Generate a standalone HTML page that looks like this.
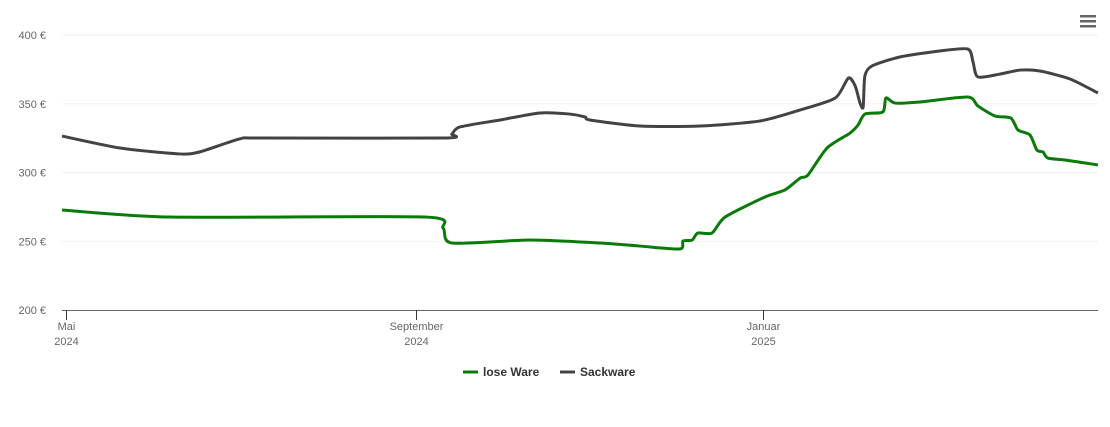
<!DOCTYPE html>
<html><head><meta charset="utf-8"><style>
body{margin:0;background:#fff;width:1110px;height:422px;overflow:hidden;font-family:"Liberation Sans",sans-serif}
svg text{font-family:"Liberation Sans",sans-serif}
</style></head><body>
<svg id="chart" width="1110" height="422" xmlns="http://www.w3.org/2000/svg">
<g id="grid"></g>
<g id="yaxis"></g>
<g id="xaxis"></g>
<g id="series"></g>
<g>
<rect x="1080" y="15" width="16" height="2.5" fill="#666"/><rect x="1080" y="20" width="16" height="2.5" fill="#666"/><rect x="1080" y="25" width="16" height="2.5" fill="#666"/>
</g>
<g>
<g><line x1="463" y1="372" x2="478" y2="372" stroke="#0a7a0a" stroke-width="3"/><text x="483" y="376" font-size="12" font-weight="bold" fill="#333">lose Ware</text></g>
<g><line x1="560" y1="372" x2="575" y2="372" stroke="#444" stroke-width="3"/><text x="580" y="376" font-size="12" font-weight="bold" fill="#333">Sackware</text></g>
</g>
</svg>
<script>
// days since 2024-05-01
const yTicks=[200,250,300,350,400];
const xTickDays=[0,123,245];
const xTickLabels=[["Mai","2024"],["September","2024"],["Januar","2025"]];
const looseDays=[-1.4,36.5,126,132.5,135.6,163,187.6,201.7,215.7,216.8,220,222,227,231.6,245.6,252.6,258,260.7,267.4,275.5,278.3,280.7,287,288.1,291.3,300,316.9,320.4,326.4,332,334.5,338.7,341.1,343.3,345,351,362.6];
const looseVals=[272.7,267.6,267.6,259.6,248.7,250.9,248.7,246.5,244.4,250.2,250.9,256,256,267.6,282.2,287.3,296,298.2,317.8,328.7,334.5,342.5,344,354.2,350.5,351.3,354.9,348.4,341.1,339.6,330.9,327.3,316.4,314.9,310.5,309.1,305.5];
const sackDays=[-1.4,19,40,47,61,68.2,133,135.6,138.4,152.5,166.5,177,182.4,184.1,201.7,222.8,243.9,258,270.3,274.9,277.3,279,280.1,280.7,283.2,293,307,316.9,318.7,320.4,328.2,335.2,342.2,352.8,362.6];
const sackVals=[326.5,317.8,313.5,315,324.4,325.1,325.1,328,333.1,338.2,343.3,342.5,340.4,338.2,333.8,333.8,337.5,345.5,354.2,368.7,362.9,350.5,347.6,370.2,377.5,384,388.4,389.8,380.4,369.5,371.6,374.5,373.8,368,357.8];
const NS="http://www.w3.org/2000/svg";
const x0=62,x1=1098;
const xs=d=>66+d*2.846;
const ys=v=>310-(v-200)*1.375;
function mk(t,a,p){const e=document.createElementNS(NS,t);for(const k in a)e.setAttribute(k,a[k]);p.appendChild(e);return e;}
const grid=document.getElementById('grid'),ya=document.getElementById('yaxis'),xa=document.getElementById('xaxis'),se=document.getElementById('series');
yTicks.forEach(v=>{
 if(v>200){const l=mk('line',{x1:x0,x2:x1,y1:ys(v),y2:ys(v),stroke:'#e6e6e6','stroke-dasharray':'1,1'},grid);
 
 }
 const t=mk('text',{x:46,y:ys(v)+4,'text-anchor':'end','font-size':11,fill:'#666'},ya);t.textContent=v+' €';
 
 
});
const ax=mk('line',{x1:x0,x2:x1,y1:310.5,y2:310.5,stroke:'#666'},xa);


xTickDays.forEach((d,i)=>{
 const x=Math.round(xs(d))+0.5;
 mk('line',{x1:x,x2:x,y1:310,y2:320,stroke:'#333'},xa);
 const t=mk('text',{x:x,y:330,'text-anchor':'middle','font-size':11,fill:'#666'},xa);
 
 
 xTickLabels[i].forEach((s,j)=>{const ts=mk('tspan',{x:x,dy:j?15:0},t);ts.textContent=s;});
});
function path(ds,vs){
 const p=ds.map((d,i)=>[xs(d),ys(vs[i])]);
 let s='M'+p[0][0]+','+p[0][1];
 for(let i=0;i<p.length-1;i++){
  const a=p[i-1]||p[i],b=p[i],c=p[i+1],e=p[i+2]||c,k=0.12;
  s+=' C'+(b[0]+(c[0]-a[0])*k)+','+(b[1]+(c[1]-a[1])*k)+' '+(c[0]-(e[0]-b[0])*k)+','+(c[1]-(e[1]-b[1])*k)+' '+c[0]+','+c[1];
 }
 return s;
}
const s1=mk('path',{d:path(sackDays,sackVals),fill:'none',stroke:'#434343','stroke-width':3,'stroke-linejoin':'round'},se);


const s2=mk('path',{d:path(looseDays,looseVals),fill:'none',stroke:'#0a7a0a','stroke-width':3,'stroke-linejoin':'round'},se);


</script>
</body></html>
